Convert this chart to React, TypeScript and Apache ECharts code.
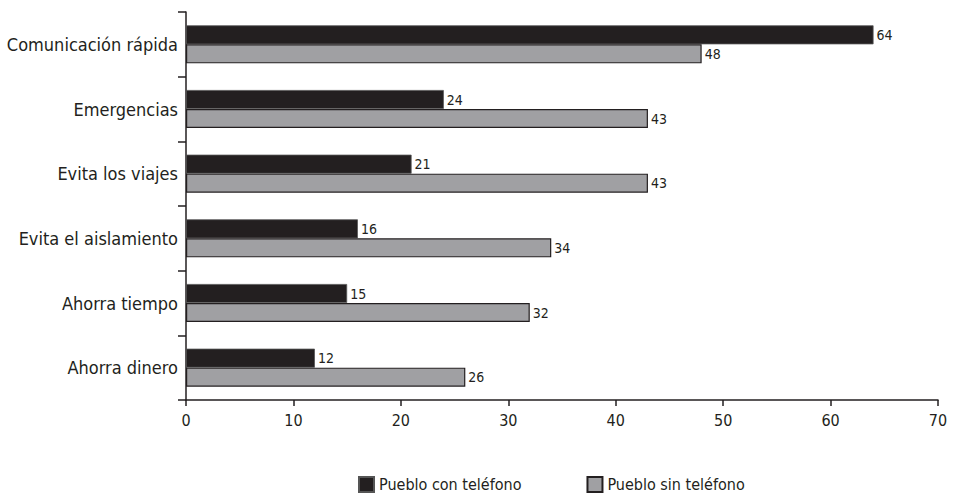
import React, { useEffect, useRef } from "react";
import * as echarts from "echarts";

const categories = [
  "Comunicación rápida",
  "Emergencias",
  "Evita los viajes",
  "Evita el aislamiento",
  "Ahorra tiempo",
  "Ahorra dinero",
];
const conTelefono = [64, 24, 21, 16, 15, 12];
const sinTelefono = [48, 43, 43, 34, 32, 26];
const seriesNames = ["Pueblo con teléfono", "Pueblo sin teléfono"];

const FONT = "'Liberation Sans Narrow', 'DejaVu Sans Condensed', 'Roboto', sans-serif";
const INK = "#231f20";

export default function App() {
  const ref = useRef<HTMLDivElement>(null);
  useEffect(() => {
    document.body.style.margin = "0";
    document.body.style.overflow = "hidden";
    const chart = echarts.init(ref.current!, null, { renderer: "svg" });
    chart.setOption({
      animation: false,
      textStyle: { fontFamily: FONT, color: INK },
      grid: { left: 186, right: 19, top: 12, bottom: 96, containLabel: false },
      legend: {
        top: 476,
        left: 358,
        padding: 0,
        itemWidth: 15,
        itemHeight: 15,
        itemGap: 65,
        icon: "rect",
        textStyle: { fontFamily: FONT, fontSize: 16, color: INK },
        data: seriesNames,
      },
      xAxis: {
        type: "value",
        min: 0,
        max: 70,
        interval: 10,
        axisLine: { show: true, lineStyle: { color: INK, width: 1.5 } },
        axisTick: { show: true, length: 6, lineStyle: { color: INK, width: 1.5 } },
        splitLine: { show: false },
        axisLabel: { fontFamily: FONT, fontSize: 16, color: INK, margin: 12 },
      },
      yAxis: {
        type: "category",
        data: categories,
        inverse: true,
        axisLine: { show: true, lineStyle: { color: INK, width: 1.5 } },
        axisTick: { show: true, length: 8, lineStyle: { color: INK, width: 1.5 } },
        axisLabel: { fontFamily: FONT, fontSize: 18, color: INK, margin: 8 },
      },
      series: [
        {
          name: seriesNames[0],
          type: "bar",
          data: conTelefono,
          barWidth: 19,
          barGap: "0%",
          itemStyle: { color: INK, borderColor: "#555", borderWidth: 0.8 },
          label: { show: true, position: "right", distance: 3, fontFamily: FONT, fontSize: 14, color: INK },
        },
        {
          name: seriesNames[1],
          type: "bar",
          data: sinTelefono,
          barWidth: 19,
          barGap: "0%",
          itemStyle: { color: "#a0a0a3", borderColor: INK, borderWidth: 1.2 },
          label: { show: true, position: "right", distance: 3, fontFamily: FONT, fontSize: 14, color: INK },
        },
      ],
    });
    return () => chart.dispose();
  }, []);
  return <div ref={ref} style={{ width: 957, height: 496 }} />;
}
